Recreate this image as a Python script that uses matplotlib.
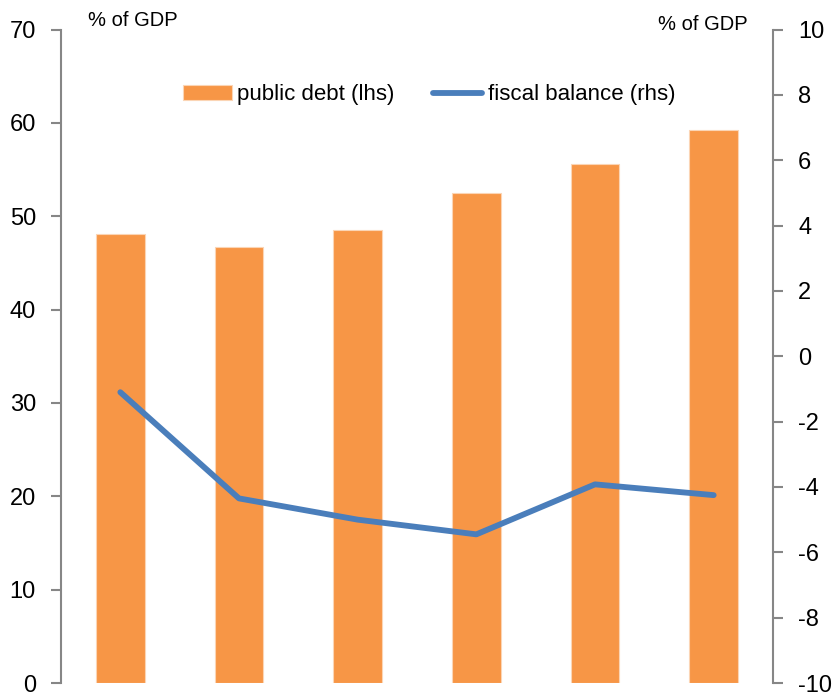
import numpy as np
import matplotlib.pyplot as plt

plt.rcParams['font.family'] = ['Liberation Sans', 'DejaVu Sans']
plt.rcParams['axes.unicode_minus'] = False

# public debt (lhs) and fiscal balance (rhs), % of GDP
debt = [48.1, 46.7, 48.5, 52.5, 55.6, 59.2]
balance = [-1.1, -4.35, -5.0, -5.45, -3.92, -4.25]

x = np.arange(len(debt))
axis_col = '#868686'

fig = plt.figure(figsize=(8.32, 6.93), dpi=100)
ax = fig.add_axes([0.0733, 0.0144, 0.8558, 0.943])
ax2 = ax.twinx()

bars = ax.bar(x, debt, width=0.41, color='#F79646', edgecolor='#FBD5B5',
              linewidth=0.8, label='public debt (lhs)', zorder=1)
line, = ax2.plot(x, balance, color='#4A7EBB', lw=4.2, solid_capstyle='round',
                 solid_joinstyle='round', label='fiscal balance (rhs)')

ax.set_xlim(-0.5, len(debt) - 0.5)
ax.set_ylim(0, 70)
ax.set_yticks(range(0, 71, 10))
ax2.set_ylim(-10, 10)
ax2.set_yticks(range(-10, 11, 2))
ax.set_xticks([])

for a in (ax, ax2):
    for s in ('top', 'bottom'):
        a.spines[s].set_visible(False)
    a.tick_params(axis='y', length=7, width=1.5, color=axis_col,
                  labelsize=17, pad=11)
ax.spines['right'].set_visible(False)
ax2.spines['left'].set_visible(False)
ax.spines['left'].set_color(axis_col)
ax.spines['left'].set_linewidth(1.5)
ax2.spines['right'].set_color(axis_col)
ax2.spines['right'].set_linewidth(1.5)

fig.text(0.106, 0.971, '% of GDP', fontsize=14.5, va='center', ha='left')
fig.text(0.899, 0.964, '% of GDP', fontsize=14.5, va='center', ha='right')

ax.legend([bars, line], ['public debt (lhs)', 'fiscal balance (rhs)'],
          loc='center', bbox_to_anchor=(0.517, 0.9), ncol=2, frameon=False,
          fontsize=16, handlelength=2.2, handletextpad=0.25,
          columnspacing=1.75, handleheight=0.6)

fig.savefig('out.png', dpi=100)
